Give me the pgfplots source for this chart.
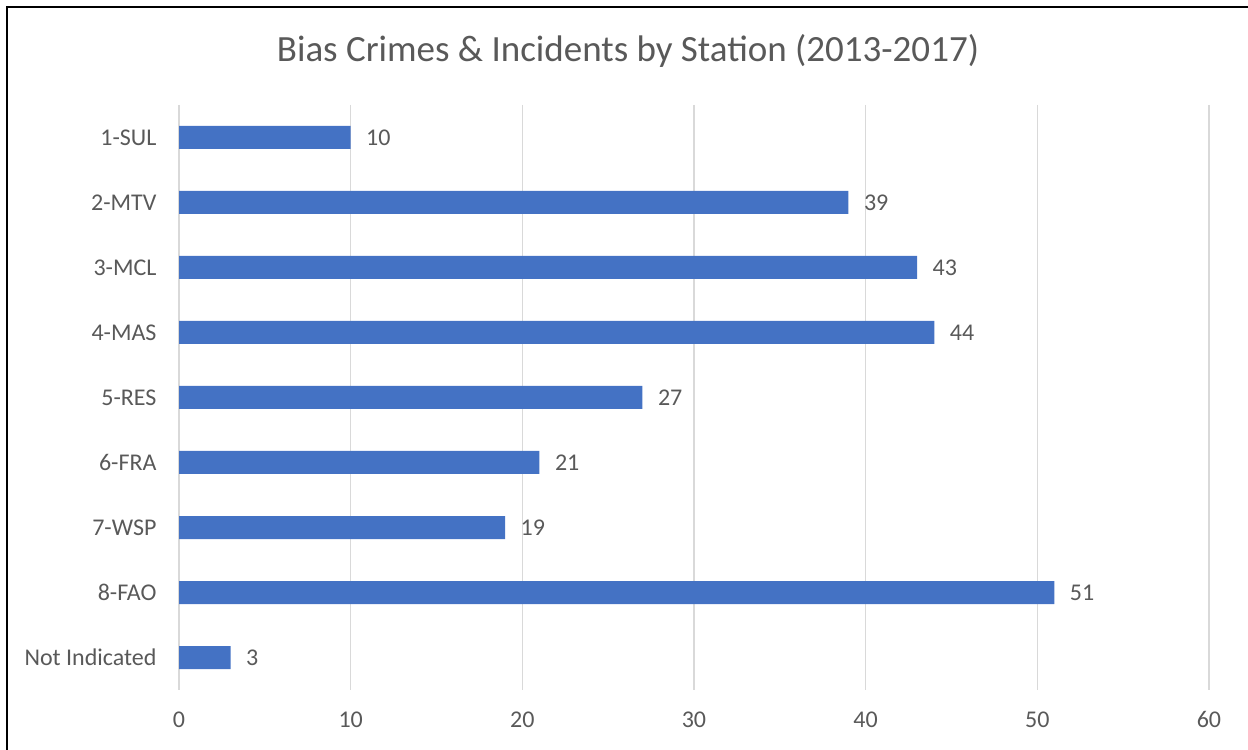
\documentclass[border=0pt]{standalone}
\usepackage{pgfplots}
\pgfplotsset{compat=1.18}
\usepackage{fontspec}
\setmainfont{Carlito}
\definecolor{barblue}{HTML}{4472C4}
\definecolor{txtgray}{HTML}{595959}
\definecolor{gridgray}{HTML}{D9D9D9}
\begin{document}
\begin{tikzpicture}[x=1bp,y=1bp]
  \path[use as bounding box] (0,0) rectangle (1248,750);
  \draw[line width=2bp,black] (7,0) -- (7,743) -- (1248,743);
  \node[text=txtgray,font=\fontsize{37bp}{44bp}\selectfont] at (628,699) {Bias Crimes \& Incidents by Station (2013-2017)};
  \begin{axis}[
      at={(179bp,60bp)}, anchor=south west,
      scale only axis,
      width=1030bp, height=585bp,
      xbar, bar width=23bp,
      xmin=0, xmax=60,
      ymin=-0.5, ymax=8.5,
      y dir=reverse,
      xtick={0,10,20,30,40,50,60},
      ytick=data,
      yticklabels={1-SUL,2-MTV,3-MCL,4-MAS,5-RES,6-FRA,7-WSP,8-FAO,Not Indicated},
      xmajorgrids=true,
      grid style={gridgray,line width=1.5bp},
      axis line style={draw=none},
      major tick length=0pt,
      /pgf/number format/assume math mode=true,
      tick label style={text=txtgray,font=\fontsize{24bp}{28bp}\selectfont},
      xticklabel style={yshift=-18bp},
      yticklabel style={xshift=-19bp},
      nodes near coords,
      every node near coord/.append style={text=txtgray,font=\fontsize{24bp}{28bp}\selectfont,xshift=12bp},
    ]
    \addplot[fill=barblue,draw=none] coordinates {
      (10,0) (39,1) (43,2) (44,3) (27,4) (21,5) (19,6) (51,7) (3,8)
    };
  \end{axis}
\end{tikzpicture}
\end{document}
